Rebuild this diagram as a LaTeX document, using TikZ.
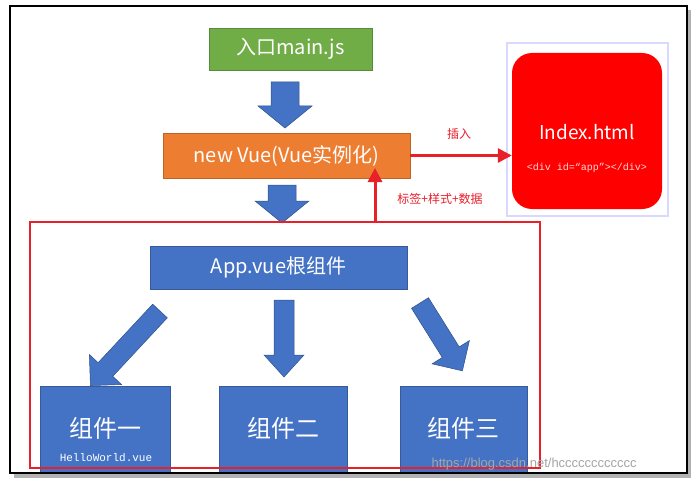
\documentclass[tikz,border=0pt]{standalone}
\usepackage{fontspec}
\setmainfont{Noto Sans CJK SC}
\newfontfamily\monof{Liberation Mono}
\newfontfamily\latf{Liberation Sans}
\usetikzlibrary{arrows.meta}
\definecolor{vblue}{HTML}{4472C4}
\definecolor{vgreen}{HTML}{70AD47}
\definecolor{vorange}{HTML}{ED7D31}
\definecolor{vred}{HTML}{E8202A}
\tikzset{
 bx/.style={draw=vblue!80!black,fill=vblue,text=white,inner sep=0pt,line width=0.5pt},
 ba/.style={fill=vblue,draw=vblue!70!black,line width=0.5pt},
 ra/.style={draw=vred,line width=3pt,-{Triangle[length=14pt,width=14pt]}},
 rl/.style={text=vred,font=\fontsize{12}{13}\selectfont},
}
\newcommand\barrow[6]{% x y angle length shafthalf headhalf
 \begin{scope}[shift={(#1,#2)},rotate=#3]
 \path[ba] (0,-#5)--(#4-22,-#5)--(#4-22,-#6)--(#4,0)--(#4-22,#6)--(#4-22,#5)--(0,#5)--cycle;
 \end{scope}}
\begin{document}
\begin{tikzpicture}[x=1pt,y=-1pt]
\useasboundingbox (0,0) rectangle (698,484);
\fill[white] (0,0) rectangle (698,484);
\fill[gray!60] (14,10) rectangle (691,478);
\draw[line width=2.5pt,fill=white] (10,6) rectangle (687,473);
% top
\node[bx,fill=vgreen,draw=vgreen!80!black,minimum width=163pt,minimum height=42pt,font=\fontsize{20}{22}\selectfont] (main) at (290.5,49) {入口main.js};
\barrow{285}{82}{-90}{46}{14}{27}
\node[bx,fill=vorange,draw=vorange!80!black,minimum width=247pt,minimum height=45pt,font=\fontsize{20}{22}\selectfont] (vue) at (286.5,155.5) {new Vue(Vue实例化)};
\barrow{282}{185}{-90}{38}{14}{27}
% index
\node[draw=blue!15,line width=1.2pt,fill=white,minimum width=161pt,minimum height=173pt] (ib) at (587.5,129.5) {};
\node[fill=red,rounded corners=20pt,minimum width=150pt,minimum height=156pt,inner sep=0pt] (idx) at (587,131) {};
\node[text=white,font=\fontsize{19}{21}\selectfont] (it) at (587,132) {Index.html};
\node[text=white!85!red,font=\monof\fontsize{10}{11}\selectfont] (id) at (587,168) {<div id=“app”></div>};
\draw[ra] (vue.east) -- (idx.west |- vue.east);
\node[rl] (l1) at (459,134) {插入};
% red frame
\draw[vred,line width=1.6pt] (30,222) rectangle (540,468);
\coordinate (ub) at (375,222);
\draw[ra] (ub) -- (375,168);
\node[rl] (l2) at (440,199) {标签+样式+数据};
% app
\node[bx,minimum width=257pt,minimum height=43pt,font=\fontsize{20}{22}\selectfont] (app) at (278.5,267.5) {App.vue根组件};
\barrow{160}{311}{-133}{102}{10}{22}
\barrow{284}{300}{-90}{77}{10}{20}
\barrow{420}{303}{-58}{80}{10}{22}
\begin{scope}
\clip (10,6) rectangle (687,471);
\node[bx,minimum width=130pt,minimum height=90pt] (c1) at (105,431) {};
\node[bx,minimum width=128pt,minimum height=90pt] (c2) at (283,431) {};
\node[bx,minimum width=127pt,minimum height=90pt] (c3) at (463.5,431) {};
\end{scope}
\draw[vred,line width=1.6pt] (30,468) -- (540,468);
\node[text=white,font=\fontsize{24}{26}\selectfont] (t1) at (105,428) {组件一};
\node[text=white,font=\fontsize{24}{26}\selectfont] (t2) at (283,428) {组件二};
\node[text=white,font=\fontsize{24}{26}\selectfont] (t3) at (463,428) {组件三};
\node[text=white,font=\monof\fontsize{11}{12}\selectfont] (hw) at (106,458) {HelloWorld.vue};
\node[text=gray!70,anchor=west,font=\latf\fontsize{13}{14}\selectfont] (wm) at (428,464) {https://blog.csdn.net/hcccccccccccc};
\end{tikzpicture}
\end{document}
